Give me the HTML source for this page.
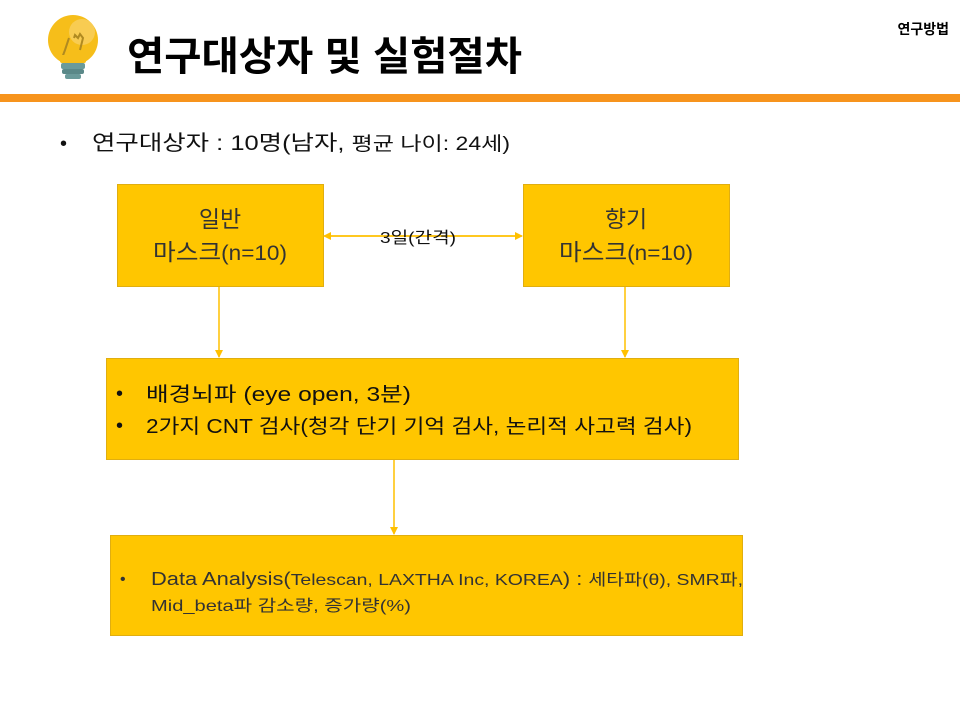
<!DOCTYPE html>
<html><head><meta charset="utf-8"><style>
html,body{margin:0;padding:0;background:#fff;width:960px;height:720px;overflow:hidden}
svg{display:block}
text{font-family:"Liberation Sans","Noto Sans CJK KR",sans-serif}
</style></head><body>
<svg width="960" height="720" viewBox="0 0 960 720" xmlns="http://www.w3.org/2000/svg">
<defs>
<marker id="ah" markerWidth="8" markerHeight="8" refX="7" refY="4" orient="auto" markerUnits="userSpaceOnUse">
<path d="M0,0 L8,4 L0,8 z" fill="#FFC000"/></marker>
</defs>
<!-- bulb -->
<circle cx="73" cy="40" r="25" fill="#F6BE1A"/>
<circle cx="82" cy="32" r="13" fill="#F9D060" opacity="0.8"/>
<path d="M62,58 L65,50 L69,38 M74,38 L75,35 L78,38 L80,34 L83,38 L80,50" stroke="#B08A20" stroke-width="2" fill="none"/>
<rect x="60" y="55" width="26" height="8" rx="2" fill="#F6BE1A"/>
<rect x="61" y="63" width="24" height="6" rx="2" fill="#6A9A9A"/>
<rect x="62" y="69" width="22" height="5" rx="2" fill="#5A8888"/>
<rect x="65" y="74" width="16" height="5" rx="2" fill="#6A9A9A"/>
<text x="127" y="70" font-size="40" font-weight="bold" fill="#000" textLength="395" lengthAdjust="spacingAndGlyphs">연구대상자 및 실험절차</text>
<text x="949" y="34" font-size="14" font-weight="bold" fill="#000" text-anchor="end">연구방법</text>
<rect x="0" y="94" width="960" height="8" fill="#F7941D"/>
<text x="60" y="150" font-size="20" fill="#111">•</text>
<text x="92" y="150" font-size="21" fill="#111" textLength="418" lengthAdjust="spacingAndGlyphs">연구대상자 : 10명(남자, <tspan font-size="19">평균 나이: 24세)</tspan></text>
<!-- boxes -->
<g fill="#FFC600" stroke="#E0AE10" stroke-width="1">
<rect x="117.5" y="184.5" width="206" height="102"/>
<rect x="523.5" y="184.5" width="206" height="102"/>
<rect x="106.5" y="358.5" width="632" height="101"/>
<rect x="110.5" y="535.5" width="632" height="100"/>
</g>
<g stroke="#FFC000" stroke-width="1.5" fill="none">
<line x1="219" y1="287" x2="219" y2="357" marker-end="url(#ah)"/>
<line x1="625" y1="287" x2="625" y2="357" marker-end="url(#ah)"/>
<line x1="394" y1="460" x2="394" y2="534" marker-end="url(#ah)"/>
<line x1="330" y1="236" x2="522" y2="236" marker-end="url(#ah)"/>
<line x1="516" y1="236" x2="324" y2="236" marker-end="url(#ah)"/>
</g>
<text x="380" y="243" font-size="16" fill="#111" textLength="76" lengthAdjust="spacingAndGlyphs">3일(간격)</text>
<g font-size="23" fill="#333">
<text x="220" y="227" text-anchor="middle">일반</text>
<text x="153" y="260" textLength="134" lengthAdjust="spacingAndGlyphs">마스크<tspan font-size="21">(n=10)</tspan></text>
<text x="626" y="227" text-anchor="middle">향기</text>
<text x="559" y="260" textLength="134" lengthAdjust="spacingAndGlyphs">마스크<tspan font-size="21">(n=10)</tspan></text>
</g>
<g font-size="20" fill="#111">
<text x="116" y="400">•</text>
<text x="146" y="401" textLength="265" lengthAdjust="spacingAndGlyphs">배경뇌파 (eye open, 3분)</text>
<text x="116" y="432">•</text>
<text x="146" y="433" textLength="546" lengthAdjust="spacingAndGlyphs">2가지 CNT 검사(청각 단기 기억 검사, 논리적 사고력 검사)</text>
</g>
<g fill="#333">
<text x="120" y="584" font-size="16">•</text>
<text x="151" y="585" font-size="18" textLength="592" lengthAdjust="spacingAndGlyphs">Data Analysis(<tspan font-size="16">Telescan, LAXTHA Inc, KOREA</tspan>) : <tspan font-size="16">세타파(θ), SMR파,</tspan></text>
<text x="151" y="611" font-size="16" textLength="260" lengthAdjust="spacingAndGlyphs">Mid_beta파 감소량, 증가량(%)</text>
</g>
</svg>
</body></html>
